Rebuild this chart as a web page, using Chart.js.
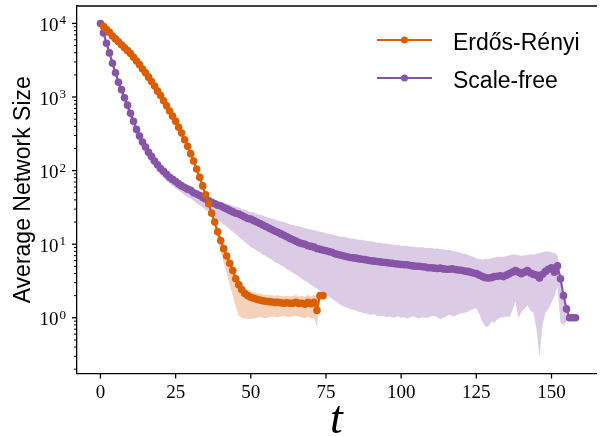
<!DOCTYPE html>
<html><head><meta charset="utf-8">
<script src="https://cdn.jsdelivr.net/npm/chart.js@4.4.0/dist/chart.umd.min.js"></script>
<style>html,body{margin:0;padding:0;background:#fff;}#wrap{width:600px;height:436px;}</style>
</head><body><div id="wrap"><canvas id="c" width="600" height="436"></canvas></div>
<script>
// ---- data ----
const seriesNames = ['Erdős-Rényi', 'Scale-free'];
const xTitle = 't';
const yTitle = 'Average Network Size';
const xTicks = [0, 25, 50, 75, 100, 125, 150];
const yTickExponents = [0, 1, 2, 3, 4];

// Erdős-Rényi, t = 0..74
const erMean = [10000,9120,8318,7586,6761,6166,5623,5129,4677,4266,
 3890,3467,3090,2754,2399,2138,1862,1622,1413,1202,
 1047,891,759,646,550,468,389,324,263,214,
 170,135,105,81,62,47,35.5,26.3,20,14.8,
 11.2,8.7,6.9,5.5,4.4,3.4,2.8,2.4,2.14,2.0,
 1.9,1.84,1.78,1.74,1.70,1.68,1.66,1.64,1.62,1.62,
 1.60,1.58,1.60,1.58,1.58,1.62,1.57,1.58,1.53,1.62,
 1.55,1.62,1.26,2.0,2.0];
const erHi = [10300,9400,8570,7810,6960,6350,5790,5280,4820,4390,
 4010,3570,3180,2840,2470,2200,1920,1670,1460,1240,
 1080,920,782,666,567,482,401,334,271,221,
 176,140,109,84,65,50,38,28.5,21.8,16.3,
 12.4,9.8,7.8,6.3,5.1,4.0,3.3,2.85,2.6,2.42,
 2.3,2.22,2.16,2.12,2.08,2.06,2.04,2.02,2.0,2.02,
 1.98,1.96,2.0,1.97,1.98,2.04,1.95,2.0,1.92,2.05,
 1.94,2.08,1.9,2.05,2.05];
const erLo = [9700,8850,8070,7360,6560,5980,5450,4980,4540,4140,
 3770,3360,3000,2670,2330,2070,1810,1570,1370,1170,
 1016,864,736,627,534,454,377,314,255,208,
 165,131,101,78,59,43.6,31.6,22.4,15.8,11.2,
 7.9,5.6,4.0,2.8,2.0,1.41,1.07,1.0,0.98,0.96,
 0.97,0.98,1.0,1.02,1.0,0.99,1.02,1.04,1.03,1.01,
 1.04,1.06,1.03,1.02,1.05,1.07,1.03,1.02,0.98,1.05,
 0.97,1.02,0.76,1.95,1.95];

// Scale-free, t = 0..158
const sfMean = [10000,7413,5370,3981,2884,2138,1585,1259,977,776,
 603,468,363,295,245,209,178,155,135,120,
 107,98,89,81,76,71,66,62,59,56,
 54,50,48,46,43,41,39,37,35.5,33.9,
 33.1,31.6,30.2,28.8,27.5,26.3,25.7,24.5,23.4,22.4,
 21.9,20.9,20.0,19.1,18.2,17.4,16.6,15.8,15.1,14.5,
 13.8,13.2,12.6,12.0,11.5,11.0,10.5,10.2,10.0,9.55,
 9.33,9.12,8.71,8.51,8.32,8.13,7.94,7.76,7.41,7.24,
 7.08,6.92,6.76,6.61,6.53,6.46,6.31,6.24,6.17,6.03,
 5.96,5.89,5.82,5.75,5.69,5.62,5.56,5.50,5.43,5.37,
 5.31,5.25,5.25,5.13,5.07,5.01,5.01,4.95,4.90,4.79,
 4.79,4.73,4.68,4.73,4.62,4.57,4.57,4.62,4.52,4.47,
 4.42,4.32,4.27,4.17,4.07,3.98,3.80,3.63,3.51,3.47,
 3.51,3.63,3.67,3.72,3.63,3.80,3.98,4.17,4.37,4.17,
 3.98,4.17,4.37,4.07,3.89,3.80,3.47,3.90,4.27,4.57,
 4.79,4.17,5.07,3.39,2.0,1.32,1,1,1];
const sfHi = [10230,7762,5754,4266,3162,2344,1738,1380,1072,851,
 661,513,398,324,269,229,195,170,148,132,
 117,107,97.7,89.1,83.2,77.6,72.4,67.6,64.6,61.7,
 58.9,55.0,52.5,50.1,46.8,45.7,43.7,41.7,40.7,38.9,
 38.0,37.2,35.5,34.7,33.1,32.4,31.6,30.2,29.5,28.2,
 27.5,26.9,25.7,25.1,24.5,23.4,22.9,22.4,21.9,20.9,
 20.4,20.0,19.5,18.6,18.2,17.8,17.4,17.0,16.6,16.2,
 15.8,15.5,15.1,14.8,14.5,14.1,13.8,13.5,13.2,12.9,
 12.6,12.6,12.3,12.0,12.0,11.7,11.5,11.5,11.2,11.0,
 11.0,10.7,10.5,10.5,10.2,10.2,10.0,10.0,9.77,9.77,
 9.55,9.55,9.55,9.33,9.33,9.12,9.12,9.12,8.91,8.91,
 8.91,8.71,8.71,8.51,8.51,8.32,8.32,8.13,7.94,7.76,
 7.59,7.41,7.24,6.92,6.76,6.46,6.31,6.17,6.31,6.31,
 6.46,6.61,6.76,6.76,6.76,6.92,7.08,7.24,7.24,7.08,
 6.92,7.08,7.08,7.24,7.24,7.41,7.59,7.76,7.94,7.94,
 7.76,7.59,7.08,3.98,2.04,1.35,1.02,1.02,1.02];
const sfLo = [9772,7079,5012,3631,2570,1862,1349,1047,794,617,
 479,372,288,234,195,166,141,123,110,97.7,
 87.1,79.4,72.4,66.1,61.7,57.5,53.7,50.1,46.8,43.7,
 41.7,38.9,36.3,33.9,31.6,29.5,26.9,25.1,23.4,21.4,
 20.0,18.6,17.4,15.8,14.8,13.8,12.6,11.7,10.7,10.0,
 9.12,8.71,8.13,7.76,7.24,6.92,6.46,6.17,5.75,5.50,
 5.13,4.90,4.57,4.37,4.07,3.89,3.63,3.39,3.16,3.02,
 2.82,2.63,2.51,2.34,2.19,2.04,1.95,1.82,1.70,1.585,
 1.48,1.41,1.38,1.32,1.29,1.26,1.20,1.175,1.15,1.12,
 1.10,1.12,1.07,1.05,1.07,1.02,1.05,1.00,1.02,1.05,
 1.00,1.02,0.977,1.02,1.05,1.00,0.977,1.02,1.00,1.00,
 1.05,1.07,1.02,0.955,1.00,1.05,1.10,1.05,1.07,1.12,
 1.15,1.175,1.20,1.26,1.32,1.35,1.12,0.89,0.76,0.76,
 0.89,0.85,0.955,1.00,1.02,1.05,1.02,1.26,1.66,1.00,
 1.20,1.32,1.48,1.26,1.175,0.71,0.295,0.79,1.175,1.32,
 1.585,2.0,2.63,0.85,0.79,0.89,0.98,0.98,0.98];

// ---- styling ----
const ORANGE = '#d95f02', PURPLE = '#8754a8';
const ORANGE_FILL = 'rgba(217,95,2,0.28)', PURPLE_FILL = 'rgba(135,84,168,0.3)';
const toXY = arr => arr.map((v, i) => ({x: i, y: v}));

const lineDs = (label, arr, color, order, hideFirst) => ({
  label, data: toXY(arr), borderColor: color, backgroundColor: color,
  borderWidth: 2.2, pointBorderWidth: 0, pointBackgroundColor: color,
  pointRadius: c => (hideFirst && c.dataIndex === 0) ? 0 : 3.8,
  fill: false, order, tension: 0
});
const bandDs = (arr, fill, color, order) => ({
  label: '_band', data: toXY(arr), borderColor: 'rgba(0,0,0,0)', borderWidth: 0,
  pointRadius: 0, backgroundColor: color, fill, order, tension: 0
});

const deco = {
  id: 'deco',
  afterDraw(chart) {
    const {ctx, chartArea: a, scales: {x: xs, y: ys}} = chart;
    ctx.save();
    ctx.strokeStyle = '#000'; ctx.fillStyle = '#000'; ctx.lineWidth = 1.3;
    ctx.beginPath(); ctx.moveTo(a.left, a.top); ctx.lineTo(a.right + 1, a.top); ctx.stroke();
    // x ticks
    ctx.font = '19px "Liberation Serif"'; ctx.textAlign = 'center'; ctx.textBaseline = 'alphabetic';
    xTicks.forEach(v => {
      const px = xs.getPixelForValue(v);
      ctx.beginPath(); ctx.moveTo(px, a.bottom); ctx.lineTo(px, a.bottom + 5); ctx.stroke();
      ctx.fillText(String(v), px, a.bottom + 24.5);
    });
    // y ticks (major + minor)
    for (let e = -1; e <= 4; e++) {
      for (let m = 1; m <= 9; m++) {
        const v = m * Math.pow(10, e);
        if (v < ys.min || v > ys.max) continue;
        const py = ys.getPixelForValue(v);
        ctx.lineWidth = m === 1 ? 1.3 : 1;
        ctx.beginPath(); ctx.moveTo(a.left, py); ctx.lineTo(a.left - (m === 1 ? 5 : 3), py); ctx.stroke();
      }
    }
    yTickExponents.forEach(e => {
      const py = ys.getPixelForValue(Math.pow(10, e));
      ctx.font = '19px "Liberation Serif"'; ctx.textAlign = 'right';
      ctx.fillText('10', 58.5, py + 7.5);
      ctx.font = '13px "Liberation Serif"'; ctx.textAlign = 'left';
      ctx.fillText(String(e), 59.5, py + 1);
    });
    // axis titles
    ctx.font = '23px "Liberation Sans"'; ctx.textAlign = 'center';
    ctx.save(); ctx.translate(30, (a.top + a.bottom) / 2); ctx.rotate(-Math.PI / 2);
    ctx.fillText(yTitle, 0, 0); ctx.restore();
    ctx.font = 'italic 46px "Liberation Serif"';
    ctx.fillText(xTitle, (a.left + a.right) / 2, 433);
    // legend
    const cols = [ORANGE, PURPLE];
    const rowsY = [40, 78];
    seriesNames.forEach((name, i) => {
      const y = rowsY[i];
      ctx.strokeStyle = cols[i]; ctx.fillStyle = cols[i]; ctx.lineWidth = 2;
      ctx.beginPath(); ctx.moveTo(377, y); ctx.lineTo(432, y); ctx.stroke();
      ctx.beginPath(); ctx.arc(404.5, y, 3.5, 0, Math.PI * 2); ctx.fill();
      ctx.fillStyle = '#000'; ctx.font = '23px "Liberation Sans"'; ctx.textAlign = 'left';
      ctx.fillText(name, 453, y + 10);
    });
    ctx.restore();
  }
};

new Chart(document.getElementById('c'), {
  type: 'line',
  data: {
    datasets: [
      lineDs(seriesNames[0], erMean, ORANGE, 0, true),
      lineDs(seriesNames[1], sfMean, PURPLE, 1, false),
      bandDs(erHi, '+1', ORANGE_FILL, 2),
      bandDs(erLo, false, ORANGE_FILL, 3),
      bandDs(sfHi, '+1', PURPLE_FILL, 4),
      bandDs(sfLo, false, PURPLE_FILL, 5)
    ]
  },
  options: {
    responsive: false, animation: false, devicePixelRatio: 1,
    layout: {padding: {left: 77, right: 1, top: 6, bottom: 62.5}},
    plugins: {legend: {display: false}, tooltip: {enabled: false}, filler: {drawTime: 'beforeDatasetsDraw', propagate: false}},
    scales: {
      x: {type: 'linear', min: -7.8, max: 164.8, grid: {display: false}, ticks: {display: false},
          border: {display: true, color: '#000', width: 1.3}, afterFit: s => { s.height = 0; }},
      y: {type: 'logarithmic', min: 0.175, max: 17260, grid: {display: false}, ticks: {display: false},
          border: {display: true, color: '#000', width: 1.3}, afterFit: s => { s.width = 0; }}
    }
  },
  plugins: [deco]
});
</script></body></html>
